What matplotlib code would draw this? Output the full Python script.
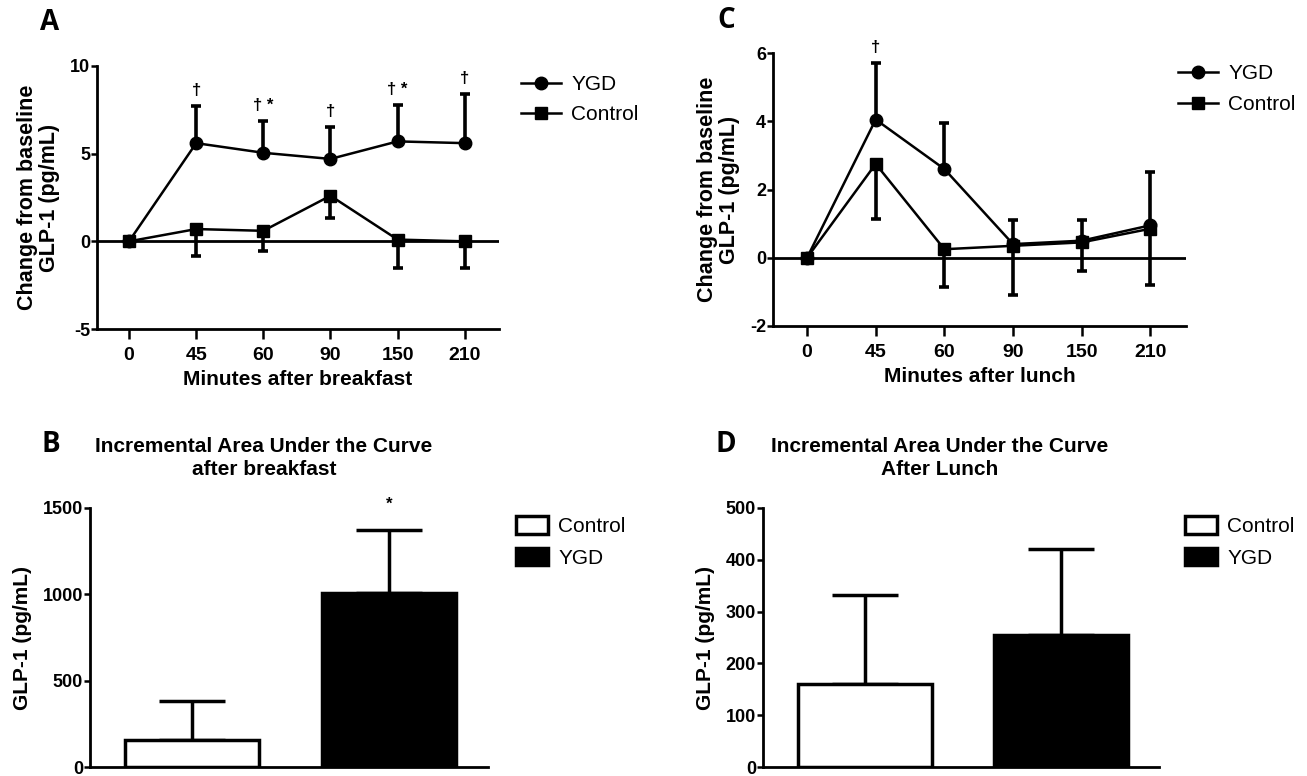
import matplotlib

matplotlib.use("Agg")
import matplotlib.pyplot as plt
from matplotlib import font_manager
from matplotlib.lines import Line2D
from matplotlib.patches import Patch
import numpy as np

# ---- data ----
minutes = ["0", "45", "60", "90", "150", "210"]

bf_ygd = [0, 5.6, 5.05, 4.7, 5.7, 5.6]
bf_ygd_err = [0, 2.1, 1.8, 1.8, 2.1, 2.8]
bf_ctrl = [0, 0.7, 0.6, 2.6, 0.1, 0.0]
bf_ctrl_err = [0, 1.55, 1.15, 1.25, 1.6, 1.5]
bf_marks = ["", "†", "† *", "†", "† *", "†"]

ln_ygd = [0, 4.05, 2.6, 0.4, 0.5, 0.95]
ln_ygd_err = [0, 1.65, 1.35, 0.7, 0.6, 1.55]
ln_ctrl = [0, 2.75, 0.25, 0.35, 0.45, 0.85]
ln_ctrl_err = [0, 1.6, 1.1, 1.45, 0.85, 1.65]
ln_marks = ["", "†", "", "", "", ""]

groups = ["Control", "YGD"]
iauc_bf = [155, 1005]
iauc_bf_err = [225, 370]
iauc_bf_marks = ["", "*"]
iauc_ln = [160, 255]
iauc_ln_err = [172, 165]
iauc_ln_marks = ["", ""]

W, H = 1307, 776


def pick(*names):
    avail = {f.name for f in font_manager.fontManager.ttflist}
    return [n for n in names if n in avail] + ["DejaVu Sans"]


BOLD = pick("Liberation Sans Narrow", "Liberation Sans")
LETTER = pick("Open Sans", "Lato")

plt.rcParams["font.family"] = BOLD
plt.rcParams["font.weight"] = "bold"
plt.rcParams["axes.labelweight"] = "bold"
plt.rcParams["axes.unicode_minus"] = False
plt.rcParams["axes.linewidth"] = 2.0


def px_ax(fig, left, top, right, bottom):
    return fig.add_axes([left / W, 1 - bottom / H, (right - left) / W, (bottom - top) / H])


def style(ax):
    ax.spines["top"].set_visible(False)
    ax.spines["right"].set_visible(False)
    ax.tick_params(axis="y", direction="out", length=4, width=1.8, labelsize=13, pad=1)
    ax.tick_params(axis="x", direction="out", length=7, width=1.8, labelsize=14, pad=6)


def line_panel(ax, ygd, ygd_err, ctrl, ctrl_err, marks, ylim, yticks, xlim, xlabel):
    x = np.arange(len(minutes))
    z = np.zeros(len(x))
    ax.axhline(0, color="black", lw=2.0, zorder=1)
    ax.errorbar(x, ygd, yerr=[z, ygd_err], fmt="-o", color="black", ms=9, lw=1.8,
                elinewidth=2.6, capsize=3.8, capthick=2.6, zorder=3)
    ax.errorbar(x, ctrl, yerr=[ctrl_err, z], fmt="-s", color="black", ms=8.5, lw=1.8,
                elinewidth=2.6, capsize=3.8, capthick=2.6, zorder=3)
    span = ylim[1] - ylim[0]
    for xi, v, e, m in zip(x, ygd, ygd_err, marks):
        if m:
            ax.text(xi, v + e + span * 0.03, m, ha="center", va="bottom", fontsize=12)
    ax.set_ylim(*ylim)
    ax.set_yticks(yticks)
    ax.set_xlim(*xlim)
    ax.set_xticks(x)
    ax.set_xticklabels(minutes)
    ax.set_xlabel(xlabel, fontsize=15, labelpad=4)
    ax.set_ylabel("Change from baseline\nGLP-1 (pg/mL)", fontsize=15.5, labelpad=7,
                  linespacing=1.1)
    style(ax)
    handles = [Line2D([], [], color="black", marker="o", ms=9, lw=1.8),
               Line2D([], [], color="black", marker="s", ms=8.5, lw=1.8)]
    return handles


def bar_panel(ax, vals, errs, marks, ylim, yticks):
    x = np.arange(len(groups))
    ax.bar(x, vals, width=0.68, color=["white", "black"], edgecolor="black", lw=2.5, zorder=2)
    ax.errorbar(x, vals, yerr=[np.zeros(len(x)), errs], fmt="none", ecolor="black",
                elinewidth=2.5, capsize=24, capthick=2.5, zorder=1)
    span = ylim[1] - ylim[0]
    for xi, v, e, m in zip(x, vals, errs, marks):
        if m:
            ax.text(xi, v + e + span * 0.07, m, ha="center", va="bottom", fontsize=12)
    ax.set_ylim(*ylim)
    ax.set_yticks(yticks)
    ax.set_xlim(-0.52, 1.5)
    ax.set_xticks([])
    ax.set_ylabel("GLP-1 (pg/mL)", fontsize=15, labelpad=8)
    style(ax)
    for s in ax.spines.values():
        s.set_clip_on(False)
    handles = [Patch(facecolor="white", edgecolor="black", lw=2.5),
               Patch(facecolor="black", edgecolor="black", lw=2.5)]
    return handles


fig = plt.figure(figsize=(W / 100, H / 100), dpi=100)
fig.patch.set_facecolor("white")

axA = px_ax(fig, 97, 66, 499, 329)
hA = line_panel(axA, bf_ygd, bf_ygd_err, bf_ctrl, bf_ctrl_err, bf_marks,
                (-5, 10), [-5, 0, 5, 10], (-0.477, 5.51), "Minutes after breakfast")
axC = px_ax(fig, 773, 53, 1186, 326)
hC = line_panel(axC, ln_ygd, ln_ygd_err, ln_ctrl, ln_ctrl_err, ln_marks,
                (-2, 6), [-2, 0, 2, 4, 6], (-0.496, 5.52), "Minutes after lunch")

axB = px_ax(fig, 90, 508, 488, 767)
hB = bar_panel(axB, iauc_bf, iauc_bf_err, iauc_bf_marks, (0, 1500), [0, 500, 1000, 1500])
axD = px_ax(fig, 763, 508, 1159, 767)
hD = bar_panel(axD, iauc_ln, iauc_ln_err, iauc_ln_marks, (0, 500), [0, 100, 200, 300, 400, 500])

leg_kw = dict(frameon=False, prop={"family": BOLD, "weight": "normal", "size": 15},
              borderpad=0, handletextpad=0.5, bbox_transform=fig.transFigure, loc="upper left")
axA.legend(hA, ["YGD", "Control"], bbox_to_anchor=(511 / W, 1 - 65 / H),
           handlelength=1.9, labelspacing=0.5, **leg_kw)
axC.legend(hC, ["YGD", "Control"], bbox_to_anchor=(1168 / W, 1 - 54 / H),
           handlelength=1.9, labelspacing=0.55, **leg_kw)
axB.legend(hB, groups, bbox_to_anchor=(506 / W, 1 - 506 / H),
           handlelength=1.5, handleheight=0.9, labelspacing=0.55, **leg_kw)
axD.legend(hD, groups, bbox_to_anchor=(1175 / W, 1 - 506 / H),
           handlelength=1.5, handleheight=0.9, labelspacing=0.55, **leg_kw)

fig.text(264 / W, 1 - 458 / H, "Incremental Area Under the Curve\nafter breakfast",
         ha="center", va="center", fontsize=15, linespacing=1.3)
fig.text(940 / W, 1 - 458 / H, "Incremental Area Under the Curve\nAfter Lunch",
         ha="center", va="center", fontsize=15, linespacing=1.3)

for lab, px, py in [("A", 40, 23), ("B", 42, 445), ("C", 717, 21), ("D", 715, 445)]:
    fig.text(px / W, 1 - py / H, lab, ha="left", va="center", fontsize=20,
             fontweight="bold", family=LETTER)

fig.savefig("out.png", dpi=100)
